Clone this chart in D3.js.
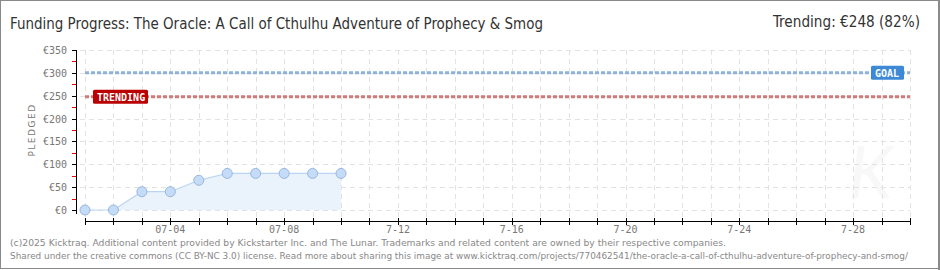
<!DOCTYPE html>
<html><head><meta charset="utf-8">
<script src="https://cdn.jsdelivr.net/npm/d3@7"></script>
<style>
body{margin:0;background:#fff;}
svg{display:block;}
</style></head>
<body>
<svg id="c" width="940" height="270"></svg>
<script>
const dates = ["07-01","07-02","07-03","07-04","07-05","07-06","07-07","07-08","07-09","07-10"];
const pledged = [0,0,40,40,65,80,80,80,80,80];
const axisStart = "07-01", axisEnd = "07-30";
const tickLabels = {"07-04":"07-04","07-08":"07-08","07-12":"7-12","07-16":"7-16","07-20":"7-20","07-24":"7-24","07-28":"7-28"};
const yTicks = [0,50,100,150,200,250,300,350];
const goal = 300, trending = 248;
const titleText = "Funding Progress: The Oracle: A Call of Cthulhu Adventure of Prophecy & Smog";
const trendText = "Trending:  €248 (82%)";
const footer1 = "(c)2025 Kicktraq. Additional content provided by Kickstarter Inc. and The Lunar. Trademarks and related content are owned by their respective companies.";
const footer2 = "Shared under the creative commons (CC BY-NC 3.0) license. Read more about sharing this image at www.kicktraq.com/projects/770462541/the-oracle-a-call-of-cthulhu-adventure-of-prophecy-and-smog/";

const svg = d3.select("#c");
const parse = s => d3.timeParse("%Y-%m-%d")("2025-"+s);
const x = d3.scaleTime().domain([parse(axisStart), parse(axisEnd)]).range([85, 910]);
const y = d3.scaleLinear().domain([0,350]).range([210,50]);

// frame
svg.append("rect").attr("x",0.5).attr("y",0.5).attr("width",938).attr("height",268).attr("fill","#fff").attr("stroke","#8a8a8a").attr("stroke-width",1);

// title
svg.append("text").attr("x",10).attr("y",29).text(titleText)
  .attr("font-family","'DejaVu Sans Condensed','Liberation Sans Narrow',sans-serif").attr("font-size",15).attr("fill","#333")
  .attr("textLength",533).attr("lengthAdjust","spacingAndGlyphs");
svg.append("text").attr("x",920).attr("y",27).attr("text-anchor","end").text(trendText)
  .attr("font-family","'DejaVu Sans Condensed',sans-serif").attr("font-size",15).attr("fill","#333")
  .attr("textLength",147).attr("lengthAdjust","spacingAndGlyphs");

// watermark
svg.append("text").attr("x",848).attr("y",198).text("K").attr("font-family","Lato, sans-serif").attr("font-style","italic")
  .attr("font-size",72).attr("fill","#f8f8f8");

const days = d3.timeDay.range(parse(axisStart), d3.timeDay.offset(parse(axisEnd),1));
// grid
const grid = svg.append("g").attr("stroke","#e2e2e2").attr("stroke-dasharray","5,4").attr("stroke-width",1);
days.forEach(d=>grid.append("line").attr("x1",Math.round(x(d))+0.5).attr("x2",Math.round(x(d))+0.5).attr("y1",50).attr("y2",218));
yTicks.forEach(v=>grid.append("line").attr("x1",80).attr("x2",910).attr("y1",Math.round(y(v))+0.5).attr("y2",Math.round(y(v))+0.5));

// area and line
const pts = dates.map((d,i)=>({d:parse(d),v:pledged[i]}));
svg.append("path").datum(pts).attr("fill","#eaf2fc")
  .attr("d",d3.area().x(p=>x(p.d)).y0(y(0)).y1(p=>y(p.v)));
svg.append("path").datum(pts).attr("fill","none").attr("stroke","#b9d5f3").attr("stroke-width",1.2)
  .attr("d",d3.line().x(p=>x(p.d)).y(p=>y(p.v)));

// goal & trending lines
svg.append("line").attr("x1",85).attr("x2",910).attr("y1",y(goal)).attr("y2",y(goal))
  .attr("stroke","#8fb2dc").attr("stroke-width",3).attr("stroke-dasharray","4,2");
svg.append("line").attr("x1",85).attr("x2",910).attr("y1",y(trending)).attr("y2",y(trending))
  .attr("stroke","#d27a7a").attr("stroke-width",3).attr("stroke-dasharray","4,2");

// points
svg.append("g").selectAll("circle").data(pts).join("circle")
  .attr("cx",p=>x(p.d)).attr("cy",p=>y(p.v)).attr("r",5)
  .attr("fill","#c4dcf7").attr("stroke","#98b6dc").attr("stroke-width",1);

// labels
function badge(cx, cy, w, txt, col){
  svg.append("rect").attr("x",cx).attr("y",cy-7).attr("width",w).attr("height",14).attr("rx",1.5).attr("fill",col);
  svg.append("text").attr("x",cx+4).attr("y",cy+4).text(txt).attr("fill","#fff")
    .attr("font-family","'DejaVu Sans Mono',monospace").attr("font-size",10).attr("font-weight","bold");
}
badge(93, y(trending), 55, "TRENDING", "#bb0000");
badge(871, y(goal), 33, "GOAL", "#3d89d6");

// y axis
const ya = svg.append("g").attr("transform","translate(76,0)");
ya.append("line").attr("x1",0.5).attr("x2",0.5).attr("y1",50).attr("y2",214).attr("stroke","#000");
ya.selectAll(".mj").data(yTicks).join("line").attr("x1",-4).attr("x2",0).attr("y1",d=>Math.round(y(d))+0.5).attr("y2",d=>Math.round(y(d))+0.5).attr("stroke","#000");
ya.selectAll(".mn").data(yTicks.slice(0,-1).map(v=>v+25)).join("line").attr("x1",-4).attr("x2",0).attr("y1",d=>Math.round(y(d))+0.5).attr("y2",d=>Math.round(y(d))+0.5).attr("stroke","#e00");
ya.selectAll("text").data(yTicks).join("text").attr("x",-9).attr("y",d=>y(d)+4).attr("text-anchor","end")
  .text(d=>"€"+d).attr("font-family","'DejaVu Sans Mono',monospace").attr("font-size",10).attr("fill","#777");
svg.append("text").attr("transform","translate(35,130) rotate(-90)").attr("text-anchor","middle").text("PLEDGED")
  .attr("font-family","'DejaVu Sans',sans-serif").attr("font-size",9).attr("letter-spacing",1.5).attr("fill","#777");

// x axis
const xa = svg.append("g");
xa.append("line").attr("x1",85).attr("x2",911).attr("y1",221.5).attr("y2",221.5).attr("stroke","#000");
xa.selectAll("line.t").data(days).join("line").attr("class","t").attr("x1",d=>Math.round(x(d))+0.5).attr("x2",d=>Math.round(x(d))+0.5)
  .attr("y1",218).attr("y2",225).attr("stroke","#000");
xa.selectAll("text").data(days.filter(d=>tickLabels[d3.timeFormat("%m-%d")(d)])).join("text")
  .attr("x",d=>x(d)).attr("y",233).attr("text-anchor","middle").text(d=>tickLabels[d3.timeFormat("%m-%d")(d)])
  .attr("font-family","'DejaVu Sans Mono',monospace").attr("font-size",10).attr("fill","#777");

// footer
svg.append("text").attr("x",10).attr("y",246).text(footer1).attr("font-family","'DejaVu Sans',Verdana,sans-serif").attr("font-size",9.3).attr("fill","#888")
  .attr("textLength",716).attr("lengthAdjust","spacingAndGlyphs");
svg.append("text").attr("x",10).attr("y",259).text(footer2).attr("font-family","'DejaVu Sans',Verdana,sans-serif").attr("font-size",8.9).attr("fill","#888");
svg.append("rect").attr("x",938).attr("y",0).attr("width",2).attr("height",270).attr("fill","#8a8a8a");
</script>
</body></html>
